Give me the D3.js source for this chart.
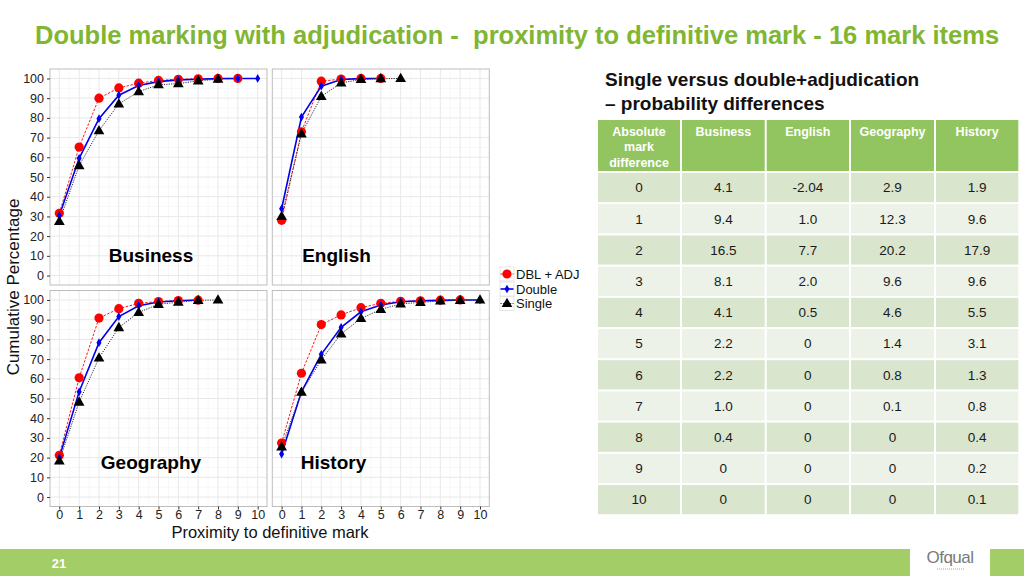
<!DOCTYPE html>
<html>
<head>
<meta charset="utf-8">
<script src="https://cdn.jsdelivr.net/npm/d3@7"></script>
<style>
  html, body { margin: 0; padding: 0; background: #fff; }
  svg { display: block; font-family: "Liberation Sans", Arial, Helvetica, sans-serif; }
</style>
</head>
<body>
<svg id="chart" width="1024" height="576"></svg>
<script>
// ---------------- DATA ----------------
const subjects = ["Business", "English", "Geography", "History"];
const seriesNames = ["DBL + ADJ", "Double", "Single"];
const xTicks = [0, 1, 2, 3, 4, 5, 6, 7, 8, 9, 10];
const yTicks = [0, 10, 20, 30, 40, 50, 60, 70, 80, 90, 100];

// cumulative percentage by proximity (index = proximity)
const businessDbl    = [31.6, 65.2, 90.0, 95.2, 97.6, 99.0, 99.6, 99.8, 100, 100];
const businessDouble = [30.5, 59.5, 79.6, 91.5, 96.4, 98.4, 99.3, 99.6, 99.9, 100, 100];
const businessSingle = [27.5, 55.8, 73.5, 87.1, 93.3, 96.8, 97.4, 98.8, 99.6];

const englishDbl     = [28.0, 72.9, 98.6, 99.7, 100, 100];
const englishDouble  = [33.9, 80.4, 96.1, 99.5, 99.9, 100];
const englishSingle  = [30.0, 71.9, 90.9, 97.7, 99.5, 99.9, 100];

const geographyDbl    = [21.2, 60.5, 90.8, 95.6, 98.3, 99.2, 99.7, 99.9];
const geographyDouble = [20.0, 53.4, 78.3, 91.6, 97.1, 99.0, 99.6, 100];
const geographySingle = [18.3, 48.2, 70.6, 86.0, 93.7, 97.8, 98.9, 99.8, 100];

const historyDbl     = [27.4, 62.8, 87.5, 92.4, 96.1, 98.3, 99.3, 99.6, 99.9, 100];
const historyDouble  = [21.8, 53.4, 72.4, 86.1, 94.0, 97.4, 99.1, 99.6, 99.8, 100, 100];
const historySingle  = [25.5, 53.2, 69.6, 82.8, 90.6, 95.2, 98.0, 98.8, 99.5, 99.8, 100];

// table
const tableHeader = ["Absolute mark difference", "Business", "English", "Geography", "History"];
const tableRowLabels = ["0", "1", "2", "3", "4", "5", "6", "7", "8", "9", "10"];
const tableBusiness  = ["4.1", "9.4", "16.5", "8.1", "4.1", "2.2", "2.2", "1.0", "0.4", "0", "0"];
const tableEnglish   = ["-2.04", "1.0", "7.7", "2.0", "0.5", "0", "0", "0", "0", "0", "0"];
const tableGeography = ["2.9", "12.3", "20.2", "9.6", "4.6", "1.4", "0.8", "0.1", "0", "0", "0"];
const tableHistory   = ["1.9", "9.6", "17.9", "9.6", "5.5", "3.1", "1.3", "0.8", "0.4", "0.2", "0.1"];

// ---------------- DRAW ----------------
const svg = d3.select("#chart");
const FONT = "'Liberation Sans', Arial, Helvetica, sans-serif";

// Title
const title = svg.append("text")
  .attr("x", 35).attr("y", 44)
  .attr("font-size", 24).attr("font-weight", "bold")
  .attr("fill", "#80b632")
  .attr("xml:space", "preserve")
  .text("Double marking with adjudication -  proximity to definitive mark - 16 mark items");
{
  const w = title.node().getComputedTextLength();
  title.attr("font-size", 24 * 965 / w);
}

// panels
const panelData = {
  Business:  [businessDbl, businessDouble, businessSingle],
  English:   [englishDbl, englishDouble, englishSingle],
  Geography: [geographyDbl, geographyDouble, geographySingle],
  History:   [historyDbl, historyDouble, historySingle]
};
const colLeft = [50, 272.3];
const rowTop = [69, 290.5];
const pw = 217, ph = 216;

const seriesColor = ["#ff0000", "#0000ee", "#111111"];

function drawPoint(g, i, cx, cy) {
  if (i === 0) {
    g.append("circle").attr("cx", cx).attr("cy", cy).attr("r", 4.6).attr("fill", "#ff0000");
  } else if (i === 1) {
    g.append("path").attr("transform", `translate(${cx},${cy})`)
      .attr("d", d3.symbol().type(d3.symbolDiamond).size(22)())
      .attr("fill", "#0000ee");
  } else {
    g.append("path").attr("transform", `translate(${cx},${cy + 0.5})`)
      .attr("d", d3.symbol().type(d3.symbolTriangle).size(50)())
      .attr("fill", "#000");
  }
}

subjects.forEach((subj, k) => {
  const col = k % 2, row = Math.floor(k / 2);
  const x0 = colLeft[col], y0 = rowTop[row];
  const x = d3.scaleLinear().domain([-0.47, 10.47]).range([x0, x0 + pw]);
  const y = d3.scaleLinear().domain([-4.8, 104.8]).range([y0 + ph, y0]);
  const g = svg.append("g");

  g.append("rect").attr("x", x0).attr("y", y0).attr("width", pw).attr("height", ph).attr("fill", "#fff");

  // minor grid
  d3.range(-0.5, 10.6, 1).forEach(v => {
    if (v < -0.47 || v > 10.47) return;
    g.append("line").attr("x1", x(v)).attr("x2", x(v)).attr("y1", y0).attr("y2", y0 + ph)
      .attr("stroke", "#f4f4f4").attr("stroke-width", 0.6);
  });
  d3.range(5, 101, 10).forEach(v => {
    g.append("line").attr("x1", x0).attr("x2", x0 + pw).attr("y1", y(v)).attr("y2", y(v))
      .attr("stroke", "#f4f4f4").attr("stroke-width", 0.6);
  });
  // major grid
  xTicks.forEach(v => {
    g.append("line").attr("x1", x(v)).attr("x2", x(v)).attr("y1", y0).attr("y2", y0 + ph)
      .attr("stroke", "#e8e8e8").attr("stroke-width", 1);
  });
  yTicks.forEach(v => {
    g.append("line").attr("x1", x0).attr("x2", x0 + pw).attr("y1", y(v)).attr("y2", y(v))
      .attr("stroke", "#e8e8e8").attr("stroke-width", 1);
  });

  const data = panelData[subj];
  // lines
  data.forEach((arr, i) => {
    const line = d3.line().x((d, j) => x(j)).y(d => y(d));
    const p = g.append("path").attr("d", line(arr)).attr("fill", "none")
      .attr("stroke", seriesColor[i]);
    if (i === 0) p.attr("stroke-width", 0.9).attr("stroke-dasharray", "2.5,1.5");
    else if (i === 1) p.attr("stroke-width", 1.6);
    else p.attr("stroke-width", 1).attr("stroke-dasharray", "1.2,1.2").attr("stroke", "#333");
  });
  // points
  data.forEach((arr, i) => {
    arr.forEach((v, j) => drawPoint(g, i, x(j), y(v)));
  });

  // border
  g.append("rect").attr("x", x0).attr("y", y0).attr("width", pw).attr("height", ph)
    .attr("fill", "none").attr("stroke", "#bdbdbd").attr("stroke-width", 1);

  // panel label
  const labelY = row === 0 ? 262 : 469;
  const labelX = col === 0 ? 151 : (subj === "English" ? 336.5 : 333.5);
  g.append("text").attr("x", labelX).attr("y", labelY).attr("text-anchor", "middle")
    .attr("font-size", 19).attr("font-weight", "bold").attr("fill", "#000").text(subj);

  // y axis on left column
  if (col === 0) {
    const ax = g.append("g").attr("transform", `translate(${x0},0)`)
      .call(d3.axisLeft(y).tickValues(yTicks).tickSize(3).tickPadding(3));
    ax.select(".domain").remove();
    ax.selectAll(".tick line").attr("stroke", "#333");
    ax.selectAll(".tick text").attr("font-size", 12.5).attr("fill", "#222").attr("font-family", FONT);
  }
  // x axis on bottom row
  if (row === 1) {
    const ax = g.append("g").attr("transform", `translate(0,${y0 + ph})`)
      .call(d3.axisBottom(x).tickValues(xTicks).tickSize(3).tickPadding(1));
    ax.select(".domain").remove();
    ax.selectAll(".tick line").attr("stroke", "#333");
    ax.selectAll(".tick text").attr("font-size", 12.5).attr("fill", "#222").attr("font-family", FONT);
  }
});

// axis titles
svg.append("text").attr("transform", "translate(19,287) rotate(-90)")
  .attr("text-anchor", "middle").attr("font-size", 17).attr("fill", "#111")
  .text("Cumulative Percentage");
svg.append("text").attr("x", 270).attr("y", 537.5)
  .attr("text-anchor", "middle").attr("font-size", 16.5).attr("fill", "#111")
  .text("Proximity to definitive mark");

// legend
const legendY = [274, 289, 303.5];
seriesNames.forEach((name, i) => {
  const lg = svg.append("g");
  lg.append("rect").attr("x", 500).attr("y", legendY[i] - 7).attr("width", 14).attr("height", 14)
    .attr("fill", "#fff").attr("stroke", "#e0e0e0").attr("stroke-width", 0.8);
  const l = lg.append("line").attr("x1", 500.5).attr("x2", 513.5).attr("y1", legendY[i]).attr("y2", legendY[i])
    .attr("stroke", seriesColor[i]);
  if (i === 0) l.attr("stroke-width", 0.9).attr("stroke-dasharray", "2.5,1.5");
  else if (i === 1) l.attr("stroke-width", 1.6);
  else l.attr("stroke-width", 1).attr("stroke-dasharray", "1.2,1.2").attr("stroke", "#333");
  drawPoint(lg, i, 507, legendY[i]);
  lg.append("text").attr("x", 516).attr("y", legendY[i] + 4.5).attr("font-size", 13)
    .attr("fill", "#111").text(name);
});

// table title
svg.append("text").attr("x", 605).attr("y", 86).attr("font-size", 19).attr("font-weight", "bold")
  .attr("fill", "#111").text("Single versus double+adjudication");
svg.append("text").attr("x", 605).attr("y", 109.5).attr("font-size", 19).attr("font-weight", "bold")
  .attr("fill", "#111").text("\u2013 probability differences");

// table
const colEdges = [597, 681, 765.7, 850, 935, 1019.3];
const headerTop = 120, headerBottom = 172, rowH = 31.2;
const tableCols = [tableRowLabels, tableBusiness, tableEnglish, tableGeography, tableHistory];
const tg = svg.append("g");
for (let c = 0; c < 5; c++) {
  const xl = colEdges[c], xr = colEdges[c + 1];
  const cx = (xl + xr) / 2;
  tg.append("rect").attr("x", xl + 1).attr("y", headerTop).attr("width", xr - xl - 2)
    .attr("height", headerBottom - headerTop - 1).attr("fill", "#92c55f");
  if (c === 0) {
    ["Absolute", "mark", "difference"].forEach((t, li) => {
      tg.append("text").attr("x", cx).attr("y", 136 + li * 15.3).attr("text-anchor", "middle")
        .attr("font-size", 12.5).attr("font-weight", "bold").attr("fill", "#fff").text(t);
    });
  } else {
    tg.append("text").attr("x", cx).attr("y", 136).attr("text-anchor", "middle")
      .attr("font-size", 12.5).attr("font-weight", "bold").attr("fill", "#fff").text(tableHeader[c]);
  }
  tableCols[c].forEach((v, r) => {
    const yt = headerBottom + r * rowH;
    tg.append("rect").attr("x", xl + 1).attr("y", yt + 1).attr("width", xr - xl - 2)
      .attr("height", rowH - 2).attr("fill", r % 2 === 0 ? "#d9e5cd" : "#ecf2e7");
    tg.append("text").attr("x", cx).attr("y", yt + rowH / 2 + 4.8).attr("text-anchor", "middle")
      .attr("font-size", 13.5).attr("fill", "#1a1a1a").text(v);
  });
}

// footer
svg.append("rect").attr("x", 0).attr("y", 549).attr("width", 1024).attr("height", 27).attr("fill", "#a3cd67");
svg.append("rect").attr("x", 910).attr("y", 549).attr("width", 80).attr("height", 27).attr("fill", "#fff");
svg.append("text").attr("x", 59).attr("y", 568).attr("text-anchor", "middle").attr("font-size", 13)
  .attr("font-weight", "bold").attr("fill", "#fff").text("21");
svg.append("text").attr("x", 950).attr("y", 563).attr("text-anchor", "middle").attr("font-size", 17)
  .attr("fill", "#7a7a7a").attr("letter-spacing", -0.5).text("Ofqual");
svg.append("line").attr("x1", 937).attr("x2", 964).attr("y1", 569).attr("y2", 569)
  .attr("stroke", "#8dc63f").attr("stroke-width", 1.2).attr("stroke-dasharray", "1,1");
</script>
</body>
</html>
